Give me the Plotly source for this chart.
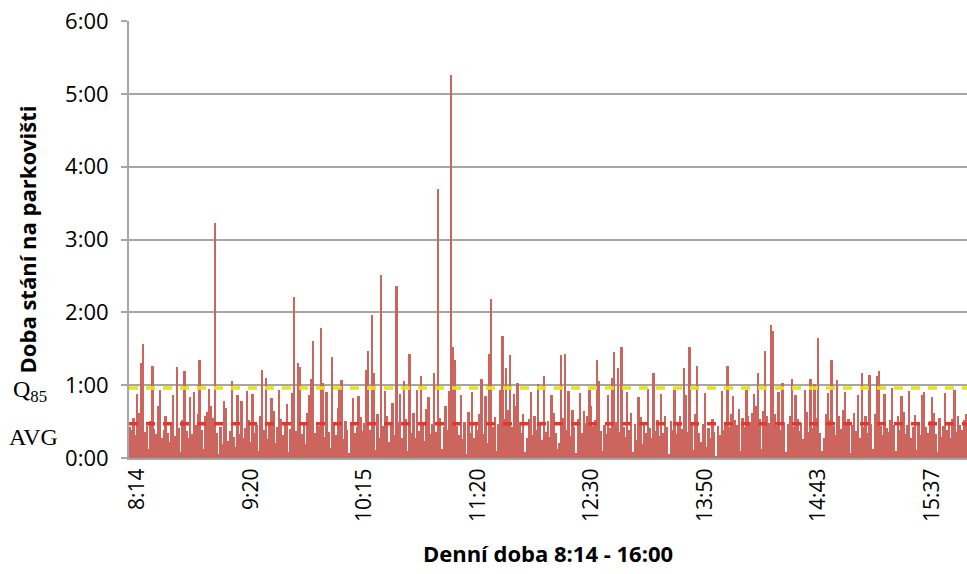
import plotly.graph_objects as go

# Parking duration (hours) of each arriving vehicle, in arrival order
durations = [
    0.42, 0.38, 0.55, 0.31, 0.88, 0.62, 1.30, 1.57, 0.36, 0.44, 0.12, 0.51, 1.26, 0.40, 0.33, 0.72, 0.93, 0.27, 0.39, 0.58,
    0.35, 0.22, 0.48, 0.86, 0.30, 1.25, 0.41, 0.08, 0.52, 1.19, 0.37, 0.28, 0.84, 0.33, 0.91, 0.46, 0.61, 1.34, 0.39, 0.12,
    0.58, 0.63, 0.95, 0.71, 0.55, 3.23, 0.34, 0.06, 0.42, 0.19, 0.78, 0.68, 0.24, 0.37, 1.06, 0.29, 0.15, 0.87, 0.33, 0.78,
    0.27, 0.41, 0.92, 0.52, 0.22, 0.88, 0.34, 0.45, 0.10, 0.57, 1.21, 0.38, 1.10, 0.26, 0.49, 0.83, 0.64, 0.21, 0.43, 0.94,
    0.53, 0.31, 0.46, 0.74, 0.08, 0.40, 0.89, 2.21, 0.37, 1.30, 1.25, 0.33, 0.48, 0.19, 0.62, 0.86, 1.08, 1.61, 0.35, 0.50,
    0.44, 1.79, 1.03, 0.29, 0.90, 0.36, 0.14, 1.38, 0.47, 0.32, 0.69, 0.95, 1.07, 0.26, 0.51, 0.38, 0.07, 0.45, 0.82, 0.34,
    0.42, 0.85, 0.56, 0.37, 0.48, 1.21, 1.47, 0.39, 1.97, 1.17, 0.11, 0.61, 0.27, 2.51, 0.44, 0.92, 0.58, 0.22, 0.46, 0.75,
    0.31, 2.36, 0.49, 0.88, 0.27, 1.06, 0.53, 0.09, 1.43, 0.34, 0.62, 0.28, 0.93, 0.37, 1.12, 0.50, 0.23, 0.67, 0.84, 0.33,
    0.47, 1.17, 0.36, 3.70, 0.55, 0.12, 0.43, 0.71, 0.38, 0.92, 5.26, 1.52, 1.35, 0.44, 0.31, 0.87, 0.26, 0.49, 0.06, 0.63,
    0.35, 0.90, 0.28, 0.45, 0.39, 0.60, 1.08, 0.33, 0.85, 0.21, 1.43, 2.18, 0.42, 0.56, 0.10, 0.47, 0.94, 1.68, 0.54, 1.24,
    0.66, 1.41, 0.43, 0.88, 0.72, 1.03, 0.49, 0.35, 0.61, 0.08, 0.27, 0.53, 0.91, 0.32, 0.57, 0.38, 1.01, 0.46, 0.25, 1.12,
    0.36, 0.51, 0.29, 0.86, 0.62, 0.34, 0.12, 0.21, 1.42, 0.55, 1.43, 0.38, 0.92, 0.30, 0.66, 0.42, 0.07, 0.53, 0.89, 0.35,
    0.64, 0.48, 0.57, 0.93, 0.71, 0.44, 0.52, 1.34, 1.06, 0.37, 0.10, 0.46, 0.33, 0.87, 0.41, 1.10, 1.46, 0.50, 1.23, 0.36,
    1.53, 0.43, 0.29, 0.90, 0.38, 0.62, 0.08, 0.47, 0.25, 0.84, 0.56, 0.19, 0.45, 0.34, 0.95, 0.41, 0.28, 1.17, 0.37, 0.52,
    0.30, 0.88, 0.35, 0.58, 0.42, 0.06, 0.51, 0.39, 0.93, 0.33, 0.48, 0.57, 0.40, 1.24, 0.86, 0.36, 1.53, 0.50, 0.11, 0.61,
    1.27, 0.34, 0.22, 0.47, 0.89, 0.15, 0.41, 0.28, 0.53, 0.36, 0.02, 0.44, 0.31, 0.92, 0.39, 0.49, 1.27, 0.42, 0.60, 0.85,
    0.52, 0.46, 0.67, 0.09, 0.55, 0.43, 0.94, 0.58, 0.49, 0.62, 0.88, 0.71, 1.17, 0.53, 0.12, 0.64, 1.47, 0.57, 0.48, 1.82,
    1.75, 0.61, 0.44, 0.90, 0.39, 1.03, 0.50, 0.08, 0.47, 0.58, 1.09, 0.42, 0.87, 0.54, 0.37, 0.48, 0.26, 0.93, 0.63, 0.36,
    1.09, 0.41, 1.02, 0.55, 1.65, 0.34, 0.10, 0.27, 0.60, 0.89, 0.52, 1.34, 0.44, 0.31, 1.07, 0.57, 0.40, 0.66, 0.91, 0.48,
    0.53, 0.07, 0.45, 0.62, 0.37, 0.86, 0.28, 1.17, 0.43, 0.58, 0.34, 1.14, 0.47, 0.12, 0.61, 1.12, 1.20, 0.44, 0.32, 0.88,
    0.41, 0.36, 0.52, 0.96, 0.46, 0.09, 0.57, 0.38, 0.85, 0.63, 0.33, 0.45, 0.92, 0.27, 0.42, 0.59, 0.11, 0.48, 0.31, 0.87,
    0.90, 0.43, 0.35, 0.51, 0.84, 0.62, 0.33, 0.08, 0.55, 0.29, 0.44, 0.89, 0.38, 0.49, 0.27, 0.53, 0.93, 0.36, 0.57, 0.45,
    0.39, 0.52, 0.60,
]

# Arrival-order positions that carry a time label, and the labels
label_positions = [4, 64, 124, 184, 244, 304, 364, 424]
label_times = ["8:14", "9:20", "10:15", "11:20", "12:30", "13:50", "14:43", "15:37"]

# Reference levels (hours)
q85_value = 0.96
avg_value = 0.47

y_ticks = [0, 1, 2, 3, 4, 5, 6]
y_tick_text = ["0:00", "1:00", "2:00", "3:00", "4:00", "5:00", "6:00"]

n = len(durations)
idx = list(range(n))

fig = go.Figure()
fig.add_trace(go.Bar(
    x=idx, y=durations,
    marker=dict(color="#CD655F", line=dict(width=0)),
    showlegend=False, hoverinfo="skip",
))
x_span = [-0.5, n - 0.5]
fig.add_trace(go.Scatter(
    x=x_span, y=[q85_value, q85_value], mode="lines",
    line=dict(color="#E6E21E", width=3.5, dash="9px,8px"),
    showlegend=False, hoverinfo="skip",
))
fig.add_trace(go.Scatter(
    x=x_span, y=[avg_value, avg_value], mode="lines",
    line=dict(color="#E2372C", width=3.5, dash="9px,8px"),
    showlegend=False, hoverinfo="skip",
))

fig.update_layout(
    width=967, height=574,
    margin=dict(l=129, r=0, t=21, b=116),
    paper_bgcolor="white", plot_bgcolor="white",
    bargap=0,
    font=dict(family="Open Sans, sans-serif", color="#000000"),
    xaxis=dict(
        range=x_span,
        tickmode="array", tickvals=label_positions, ticktext=label_times,
        tickangle=-90, tickfont=dict(size=21),
        showgrid=False, zeroline=False,
        showline=True, linecolor="#A6A6A6", linewidth=2,
        ticks="",
        title=dict(text="<b>Denní doba 8:14 - 16:00</b>", font=dict(size=22), standoff=26),
    ),
    yaxis=dict(
        range=[0, 6],
        tickmode="array", tickvals=y_ticks, ticktext=y_tick_text,
        tickfont=dict(size=22),
        showgrid=True, gridcolor="#A6A6A6", gridwidth=1.5,
        zeroline=False,
        showline=True, linecolor="#A6A6A6", linewidth=2,
        ticks="outside", ticklen=6, tickcolor="#A6A6A6", tickwidth=1.5,
        ticklabelstandoff=8,
        title=dict(text="<b>Doba stání na parkovišti</b>", font=dict(size=22), standoff=22),
    ),
    annotations=[
        dict(text="Q<sub>85</sub>", xref="paper", yref="y", x=-0.141, y=q85_value - 0.04,
             xanchor="left", yanchor="middle", showarrow=False,
             font=dict(family="Liberation Serif, serif", size=24, color="#000000")),
        dict(text="AVG", xref="paper", yref="y", x=-0.146, y=0.29,
             xanchor="left", yanchor="middle", showarrow=False,
             font=dict(family="Liberation Serif, serif", size=24, color="#000000")),
    ],
)

fig.write_html("out.html")
